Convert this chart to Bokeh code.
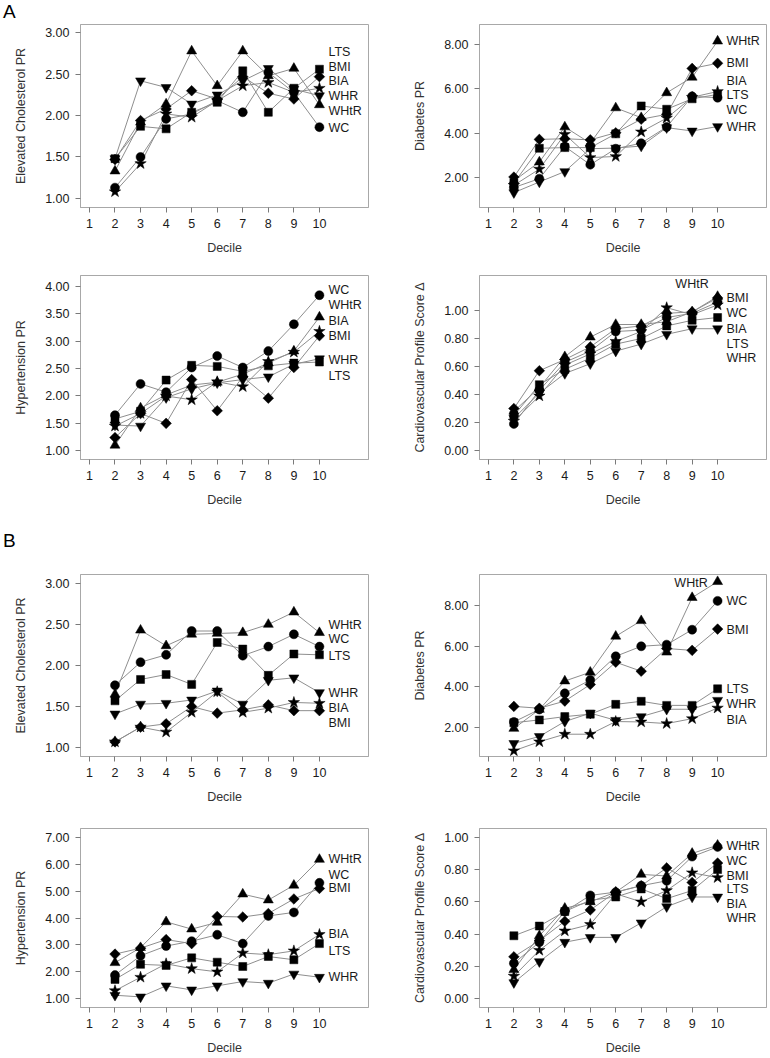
import math
from bokeh.plotting import figure
from bokeh.layouts import column, row
from bokeh.models import Range1d, FixedTicker, NumeralTickFormatter, Label, Div
from bokeh.embed import file_html
from bokeh.resources import INLINE

# ---------------- data ----------------
DECILES = [2, 3, 4, 5, 6, 7, 8, 9, 10]
X_TICKS = [1, 2, 3, 4, 5, 6, 7, 8, 9, 10]
SERIES = ["WC", "WHtR", "BIA", "BMI", "WHR", "LTS"]

# Panel A - Elevated cholesterol PR
a_chol_wc   = [1.13, 1.50, 1.96, 2.02, 2.18, 2.04, 2.52, 2.28, 1.86]
a_chol_whtr = [1.33, 1.92, 2.14, 2.78, 2.36, 2.78, 2.48, 2.57, 2.13]
a_chol_bia  = [1.08, 1.42, 2.02, 1.98, 2.18, 2.36, 2.40, 2.28, 2.33]
a_chol_bmi  = [1.47, 1.94, 2.08, 2.30, 2.20, 2.47, 2.27, 2.20, 2.47]
a_chol_whr  = [1.48, 2.42, 2.34, 2.14, 2.25, 2.42, 2.57, 2.32, 2.24]
a_chol_lts  = [1.48, 1.87, 1.84, 2.04, 2.16, 2.54, 2.04, 2.33, 2.56]

# Panel A - Diabetes PR
a_diab_wc   = [1.55, 1.95, 3.40, 2.58, 3.30, 3.55, 4.28, 5.66, 5.60]
a_diab_whtr = [1.85, 2.70, 4.28, 3.55, 5.14, 4.70, 5.82, 6.52, 8.15]
a_diab_bia  = [1.65, 2.38, 3.95, 2.90, 2.95, 4.06, 4.68, 5.62, 5.88]
a_diab_bmi  = [2.02, 3.72, 3.75, 3.70, 4.02, 4.63, 4.85, 6.92, 7.15]
a_diab_whr  = [1.32, 1.80, 2.27, 3.30, 3.33, 3.42, 4.25, 4.10, 4.30]
a_diab_lts  = [1.75, 3.32, 3.35, 3.35, 3.97, 5.23, 5.08, 5.55, 5.75]

# Panel A - Hypertension PR
a_hyp_wc   = [1.65, 2.22, 2.07, 2.52, 2.73, 2.52, 2.82, 3.31, 3.84]
a_hyp_whtr = [1.10, 1.78, 2.02, 2.20, 2.25, 2.40, 2.60, 2.82, 3.44]
a_hyp_bia  = [1.45, 1.68, 2.00, 1.93, 2.26, 2.17, 2.63, 2.80, 3.18]
a_hyp_bmi  = [1.24, 1.68, 1.50, 2.30, 1.73, 2.35, 1.96, 2.52, 3.10]
a_hyp_whr  = [1.47, 1.45, 1.97, 2.13, 2.24, 2.30, 2.35, 2.58, 2.68]
a_hyp_lts  = [1.58, 1.72, 2.29, 2.56, 2.54, 2.45, 2.55, 2.60, 2.62]

# Panel A - Cardiovascular profile score delta
a_cps_wc   = [0.19, 0.43, 0.63, 0.71, 0.85, 0.86, 0.95, 0.98, 1.06]
a_cps_whtr = [0.28, 0.45, 0.67, 0.81, 0.90, 0.90, 0.92, 0.99, 1.10]
a_cps_bia  = [0.21, 0.39, 0.61, 0.69, 0.78, 0.85, 1.02, 0.97, 1.04]
a_cps_bmi  = [0.30, 0.57, 0.65, 0.74, 0.87, 0.89, 0.98, 0.99, 1.09]
a_cps_whr  = [0.23, 0.41, 0.55, 0.62, 0.71, 0.76, 0.83, 0.87, 0.87]
a_cps_lts  = [0.25, 0.47, 0.58, 0.66, 0.76, 0.80, 0.89, 0.93, 0.95]

# Panel B - Elevated cholesterol PR
b_chol_wc   = [1.76, 2.04, 2.13, 2.42, 2.42, 2.12, 2.23, 2.38, 2.23]
b_chol_whtr = [1.65, 2.43, 2.24, 2.38, 2.39, 2.40, 2.50, 2.65, 2.40]
b_chol_bia  = [1.07, 1.25, 1.19, 1.43, 1.68, 1.43, 1.48, 1.55, 1.54]
b_chol_bmi  = [1.07, 1.25, 1.29, 1.50, 1.42, 1.46, 1.52, 1.45, 1.45]
b_chol_whr  = [1.41, 1.53, 1.54, 1.58, 1.69, 1.53, 1.82, 1.85, 1.67]
b_chol_lts  = [1.57, 1.83, 1.89, 1.77, 2.28, 2.20, 1.88, 2.14, 2.13]

# Panel B - Diabetes PR
b_diab_wc   = [2.29, 2.90, 3.69, 4.34, 5.50, 5.99, 6.07, 6.80, 8.21]
b_diab_whtr = [1.97, 2.90, 4.29, 4.72, 6.48, 7.24, 5.70, 8.37, 9.15]
b_diab_bia  = [0.88, 1.32, 1.69, 1.69, 2.31, 2.29, 2.21, 2.45, 2.97]
b_diab_bmi  = [3.05, 2.96, 3.31, 4.12, 5.21, 4.77, 5.88, 5.79, 6.83]
b_diab_whr  = [1.24, 1.58, 2.31, 2.72, 2.37, 2.55, 2.91, 2.91, 3.35]
b_diab_lts  = [2.25, 2.39, 2.55, 2.67, 3.15, 3.30, 3.10, 3.10, 3.91]

# Panel B - Hypertension PR
b_hyp_wc   = [1.88, 2.60, 2.96, 3.14, 3.38, 3.05, 4.08, 4.21, 5.31]
b_hyp_whtr = [2.34, 2.90, 3.86, 3.59, 3.84, 4.89, 4.67, 5.22, 6.18]
b_hyp_bia  = [1.30, 1.80, 2.30, 2.12, 2.00, 2.70, 2.64, 2.78, 3.39]
b_hyp_bmi  = [2.66, 2.88, 3.20, 3.05, 4.06, 4.04, 4.17, 4.71, 5.10]
b_hyp_whr  = [1.13, 1.07, 1.48, 1.33, 1.48, 1.64, 1.58, 1.92, 1.80]
b_hyp_lts  = [1.72, 2.28, 2.24, 2.52, 2.36, 2.20, 2.57, 2.45, 3.05]

# Panel B - Cardiovascular profile score delta
b_cps_wc   = [0.22, 0.35, 0.54, 0.64, 0.66, 0.70, 0.73, 0.88, 0.94]
b_cps_whtr = [0.18, 0.39, 0.56, 0.60, 0.66, 0.77, 0.76, 0.90, 0.95]
b_cps_bia  = [0.14, 0.30, 0.42, 0.46, 0.65, 0.60, 0.67, 0.78, 0.75]
b_cps_bmi  = [0.26, 0.36, 0.48, 0.55, 0.66, 0.70, 0.81, 0.72, 0.84]
b_cps_whr  = [0.10, 0.23, 0.35, 0.38, 0.38, 0.47, 0.57, 0.63, 0.63]
b_cps_lts  = [0.39, 0.45, 0.54, 0.61, 0.63, 0.68, 0.62, 0.67, 0.80]

Y_LABEL_CHOL = "Elevated Cholesterol PR"
Y_LABEL_DIAB = "Diabetes PR"
Y_LABEL_HYP = "Hypertension PR"
Y_LABEL_CPS = "Cardiovascular Profile Score \u0394"

CHOL_TICKS = [1.0, 1.5, 2.0, 2.5, 3.0]
DIAB_TICKS = [2.0, 4.0, 6.0, 8.0]
A_HYP_TICKS = [1.0, 1.5, 2.0, 2.5, 3.0, 3.5, 4.0]
B_HYP_TICKS = [1.0, 2.0, 3.0, 4.0, 5.0, 6.0, 7.0]
CPS_TICKS = [0.0, 0.2, 0.4, 0.6, 0.8, 1.0]

# ---------------- styling / layout ----------------
FONT = "Liberation Sans"
LINE_COLOR = "#8e8e8e"
MARKERS = {
    "WC":   dict(marker="circle", size=9, angle=0.0),
    "WHtR": dict(marker="triangle", size=10, angle=0.0),
    "BIA":  dict(marker="star", size=12, angle=0.0),
    "BMI":  dict(marker="square", size=7.5, angle=math.pi / 4),
    "WHR":  dict(marker="inverted_triangle", size=10, angle=0.0),
    "LTS":  dict(marker="square", size=8, angle=0.0),
}
X_START, X_END = 0.65, 11.92
LEFT_W, RIGHT_W = 399, 370
BORDER_L = 80
LEFT_BR, RIGHT_BR = 31, 3
ROWS = [  # height, top border, bottom border
    (245, 0, 62),
    (261, 6, 71),
    (246, 14, 48),
    (251, 22, 48),
]
LABEL_X = 10.35


def make_panel(width, right_border, row_geom, y_range, y_ticks, y_label, data, label_specs):
    height, top, bottom = row_geom
    p = figure(width=width, height=height, output_backend="svg", toolbar_location=None,
               x_range=Range1d(X_START, X_END), y_range=Range1d(*y_range),
               min_border_left=BORDER_L, min_border_right=right_border,
               min_border_top=top, min_border_bottom=bottom)
    p.background_fill_color = "white"
    p.border_fill_color = "white"
    p.outline_line_color = "#a8a8a8"
    p.outline_line_width = 1
    p.xgrid.visible = False
    p.ygrid.visible = False

    p.xaxis.ticker = FixedTicker(ticks=X_TICKS)
    p.yaxis.ticker = FixedTicker(ticks=y_ticks)
    p.yaxis.formatter = NumeralTickFormatter(format="0.00")
    for ax in (p.xaxis[0], p.yaxis[0]):
        ax.axis_line_color = "#a8a8a8"
        ax.major_tick_line_color = "#7a7a7a"
        ax.minor_tick_line_color = None
        ax.major_tick_out = 5
        ax.major_tick_in = 0
        ax.major_label_text_font = FONT
        ax.major_label_text_font_size = "12.5px"
        ax.major_label_text_color = "#1a1a1a"
        ax.axis_label_text_font = FONT
        ax.axis_label_text_font_size = "12.5px"
        ax.axis_label_text_font_style = "normal"
        ax.axis_label_text_color = "#333333"
        ax.major_label_standoff = 6
    p.xaxis.axis_label = "Decile"
    p.xaxis.axis_label_standoff = 10
    p.yaxis.axis_label = y_label
    p.yaxis.axis_label_standoff = 14

    for name in SERIES:
        p.line(DECILES, data[name], line_color=LINE_COLOR, line_width=1)
    for name in SERIES:
        m = MARKERS[name]
        p.scatter(DECILES, data[name], marker=m["marker"], size=m["size"], angle=m["angle"],
                  fill_color="black", line_color="black", line_width=0.5)

    for txt, lx, ly, align in label_specs:
        p.add_layout(Label(x=lx, y=ly, text=txt, text_font=FONT, text_font_size="12.5px",
                           text_color="#1a1a1a", text_align=align, text_baseline="middle"))
    return p


def panel_letter(letter, height, line_height):
    return Div(text=letter, width=LEFT_W + RIGHT_W, height=height, margin=(0, 0, 0, 0),
               styles={"font-family": FONT, "font-size": "19px", "line-height": line_height,
                       "color": "#000000", "padding-left": "3px"})


def series(wc, whtr, bia, bmi, whr, lts):
    return {"WC": wc, "WHtR": whtr, "BIA": bia, "BMI": bmi, "WHR": whr, "LTS": lts}


def labels(pairs, x=LABEL_X, align="left"):
    return [(t, x, y, align) for t, y in pairs]


pA1 = make_panel(LEFT_W, LEFT_BR, ROWS[0], (0.89, 3.10), CHOL_TICKS, Y_LABEL_CHOL,
                 series(a_chol_wc, a_chol_whtr, a_chol_bia, a_chol_bmi, a_chol_whr, a_chol_lts),
                 labels([("LTS", 2.77), ("BMI", 2.59), ("BIA", 2.42), ("WHR", 2.24),
                         ("WHtR", 2.06), ("WC", 1.85)]))
pA2 = make_panel(RIGHT_W, RIGHT_BR, ROWS[0], (0.65, 8.90), DIAB_TICKS, Y_LABEL_DIAB,
                 series(a_diab_wc, a_diab_whtr, a_diab_bia, a_diab_bmi, a_diab_whr, a_diab_lts),
                 labels([("WHtR", 8.15), ("BMI", 7.17), ("BIA", 6.37), ("LTS", 5.71),
                         ("WC", 5.03), ("WHR", 4.26)]))
pA3 = make_panel(LEFT_W, LEFT_BR, ROWS[1], (0.84, 4.20), A_HYP_TICKS, Y_LABEL_HYP,
                 series(a_hyp_wc, a_hyp_whtr, a_hyp_bia, a_hyp_bmi, a_hyp_whr, a_hyp_lts),
                 labels([("WC", 3.93), ("WHtR", 3.66), ("BIA", 3.37), ("BMI", 3.10),
                         ("WHR", 2.66), ("LTS", 2.37)]))
pA4 = make_panel(RIGHT_W, RIGHT_BR, ROWS[1], (-0.064, 1.25), CPS_TICKS, Y_LABEL_CPS,
                 series(a_cps_wc, a_cps_whtr, a_cps_bia, a_cps_bmi, a_cps_whr, a_cps_lts),
                 [("WHtR", 8.34, 1.19, "left")] +
                 labels([("BMI", 1.09), ("WC", 0.98), ("BIA", 0.87), ("LTS", 0.76),
                         ("WHR", 0.66)]))
pB1 = make_panel(LEFT_W, LEFT_BR, ROWS[2], (0.892, 3.108), CHOL_TICKS, Y_LABEL_CHOL,
                 series(b_chol_wc, b_chol_whtr, b_chol_bia, b_chol_bmi, b_chol_whr, b_chol_lts),
                 labels([("WHtR", 2.49), ("WC", 2.32), ("LTS", 2.12), ("WHR", 1.66),
                         ("BIA", 1.48), ("BMI", 1.30)]))
pB2 = make_panel(RIGHT_W, RIGHT_BR, ROWS[2], (0.60, 9.50), DIAB_TICKS, Y_LABEL_DIAB,
                 series(b_diab_wc, b_diab_whtr, b_diab_bia, b_diab_bmi, b_diab_whr, b_diab_lts),
                 [("WHtR", 9.61, 9.07, "right")] +
                 labels([("WC", 8.18), ("BMI", 6.80), ("LTS", 3.88), ("WHR", 3.15),
                         ("BIA", 2.39)]))
pB3 = make_panel(LEFT_W, LEFT_BR, ROWS[3], (0.675, 7.33), B_HYP_TICKS, Y_LABEL_HYP,
                 series(b_hyp_wc, b_hyp_whtr, b_hyp_bia, b_hyp_bmi, b_hyp_whr, b_hyp_lts),
                 labels([("WHtR", 6.18), ("WC", 5.61), ("BMI", 5.10), ("BIA", 3.39),
                         ("LTS", 2.76), ("WHR", 1.80)]))
pB4 = make_panel(RIGHT_W, RIGHT_BR, ROWS[3], (-0.054, 1.054), CPS_TICKS, Y_LABEL_CPS,
                 series(b_cps_wc, b_cps_whtr, b_cps_bia, b_cps_bmi, b_cps_whr, b_cps_lts),
                 labels([("WHtR", 0.944), ("WC", 0.853), ("BMI", 0.763), ("LTS", 0.679),
                         ("BIA", 0.588), ("WHR", 0.498)]))

layout = column(panel_letter("A", 24, "23px"),
                row(pA1, pA2), row(pA3, pA4),
                panel_letter("B", 30, "21px"),
                row(pB1, pB2), row(pB3, pB4))

with open("out.html", "w") as f:
    f.write(file_html(layout, INLINE))
